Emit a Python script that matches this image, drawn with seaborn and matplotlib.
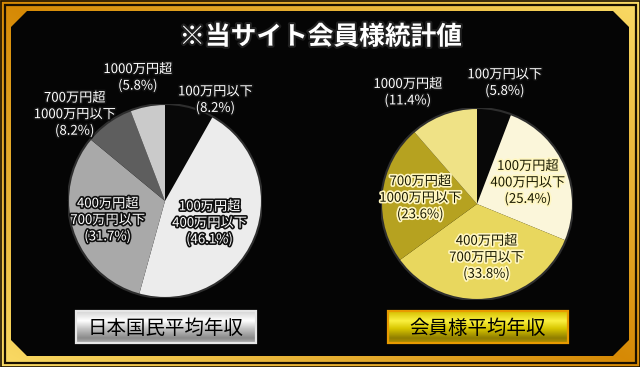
import numpy as np
import matplotlib
matplotlib.use("Agg")
import matplotlib.pyplot as plt
import matplotlib.patheffects as pe
from matplotlib.patches import Rectangle, Polygon, Circle
import seaborn as sns

# --- data ---
title = "※当サイト会員様統計値"
brackets = ["100万円以下", "100万円超\n400万円以下", "400万円超\n700万円以下",
            "700万円超\n1000万円以下", "1000万円超"]
national_share = [8.2, 46.1, 31.7, 8.2, 5.8]
member_share = [5.8, 25.4, 33.8, 23.6, 11.4]
national_name = "日本国民平均年収"
member_name = "会員様平均年収"

# --- style ---
national_colors = ["#080808", "#ececec", "#a9a9a9", "#5e5e5e", "#cacaca"]
member_colors = ["#080808", "#fbf6da", "#e8d75e", "#b6a220", "#efe286"]
# label centres in pie-radius units
national_pos = [(0.52, 1.04), (0.46, -0.23), (-0.59, -0.20), (-0.93, 0.89), (-0.28, 1.27)]
member_pos = [(0.29, 1.26), (0.53, 0.22), (0.10, -0.56), (-0.59, 0.06), (-0.72, 1.16)]
national_dark = [False] * 5
member_dark = [False, True, True, True, False]

W, H = 640, 367

sns.set_style("white")
plt.rcParams['font.family'] = ['Noto Sans CJK JP', 'DejaVu Sans']

fig = plt.figure(figsize=(W / 100, H / 100), dpi=100, facecolor="black")
bg = fig.add_axes([0, 0, 1, 1])
bg.set_xlim(0, W)
bg.set_ylim(H, 0)
bg.axis('off')

# gold frame gradient
yy, xx = np.mgrid[0:H, 0:W]
u = np.abs(xx / W - yy / H)
orange = np.array([0.84, 0.54, 0.02])
light = np.array([0.98, 0.86, 0.40])
img = orange + np.clip(u, 0, 1)[..., None] * (light - orange)
bg.imshow(img, extent=(0, W, H, 0), aspect='auto', zorder=0)
bg.add_patch(Rectangle((0.5, 0.5), W - 1, H - 1, fill=False, ec="#1a1000", lw=1.2, zorder=1))
bg.add_patch(Rectangle((4.5, 4.5), W - 9, H - 9, fill=False, ec="#1a1000", lw=1.6, zorder=1))
ins, ch = 11, 16
inner = [(ins + ch, ins), (W - ins - ch, ins), (W - ins, ins + ch), (W - ins, H - ins - ch),
         (W - ins - ch, H - ins), (ins + ch, H - ins), (ins, H - ins - ch), (ins, ins + ch)]
bg.add_patch(Polygon(inner, closed=True, fc="#050505", ec="#050505", lw=0, zorder=2))

bg.text(321, 37, title, ha='center', va='center', fontsize=18.5, fontweight='bold', color='white',
        zorder=3, path_effects=[pe.withStroke(linewidth=3, foreground="#202020")])


def gradient_box(x0, y0, w, h, stops, colors, edge, text):
    prof = np.linspace(0, 1, 64)
    rgb = np.array([matplotlib.colors.to_rgb(c) for c in colors])
    col = np.stack([np.interp(prof, stops, rgb[:, k]) for k in range(3)], axis=-1)
    grad = np.repeat(col[:, None, :], 2, axis=1)
    bg.imshow(grad, extent=(x0, x0 + w, y0 + h, y0), aspect='auto', zorder=3)
    bg.add_patch(Rectangle((x0, y0), w, h, fill=False, ec=edge, lw=1.6, zorder=4))
    bg.text(x0 + w / 2, y0 + h / 2 + 1, text, ha='center', va='center', fontsize=14,
            color='black', zorder=5)


gradient_box(76, 311, 180, 32, [0, 0.3, 0.55, 0.85, 1],
             ["#d4d4d4", "#ffffff", "#c4c4c4", "#8a8a8a", "#b0b0b0"], "#e6e6e6", national_name)
gradient_box(388, 311, 180, 32, [0, 0.3, 0.55, 0.85, 1],
             ["#d6bf00", "#faf040", "#d8c600", "#8f7d00", "#b09000"], "#e89a00", member_name)


def draw_pie(cx, cy, r, shares, colors, positions, dark):
    ax = fig.add_axes([(cx - r) / W, 1 - (cy + r) / H, 2 * r / W, 2 * r / H])
    ax.pie(shares, colors=colors, startangle=90, counterclock=False,
           wedgeprops=dict(linewidth=0))
    ax.add_patch(Circle((0, 0), 1, fill=False, ec="#2e2e2e", lw=1.5))
    ax.set_xlim(-1, 1)
    ax.set_ylim(-1, 1)
    ax.axis('off')
    for lab, v, (tx, ty), d in zip(brackets, shares, positions, dark):
        if d:
            fc, sc = "#1a1a00", "#fff6c0"
        else:
            fc, sc = "white", "#111111"
        ax.text(tx, ty, f"{lab}\n({v}%)", ha='center', va='center', fontsize=9.5,
                linespacing=1.35, color=fc, clip_on=False,
                path_effects=[pe.withStroke(linewidth=2.4, foreground=sc)])


draw_pie(165, 201, 97, national_share, national_colors, national_pos, national_dark)
draw_pie(477, 204, 96, member_share, member_colors, member_pos, member_dark)

fig.savefig("out.png", dpi=100, facecolor=fig.get_facecolor())
